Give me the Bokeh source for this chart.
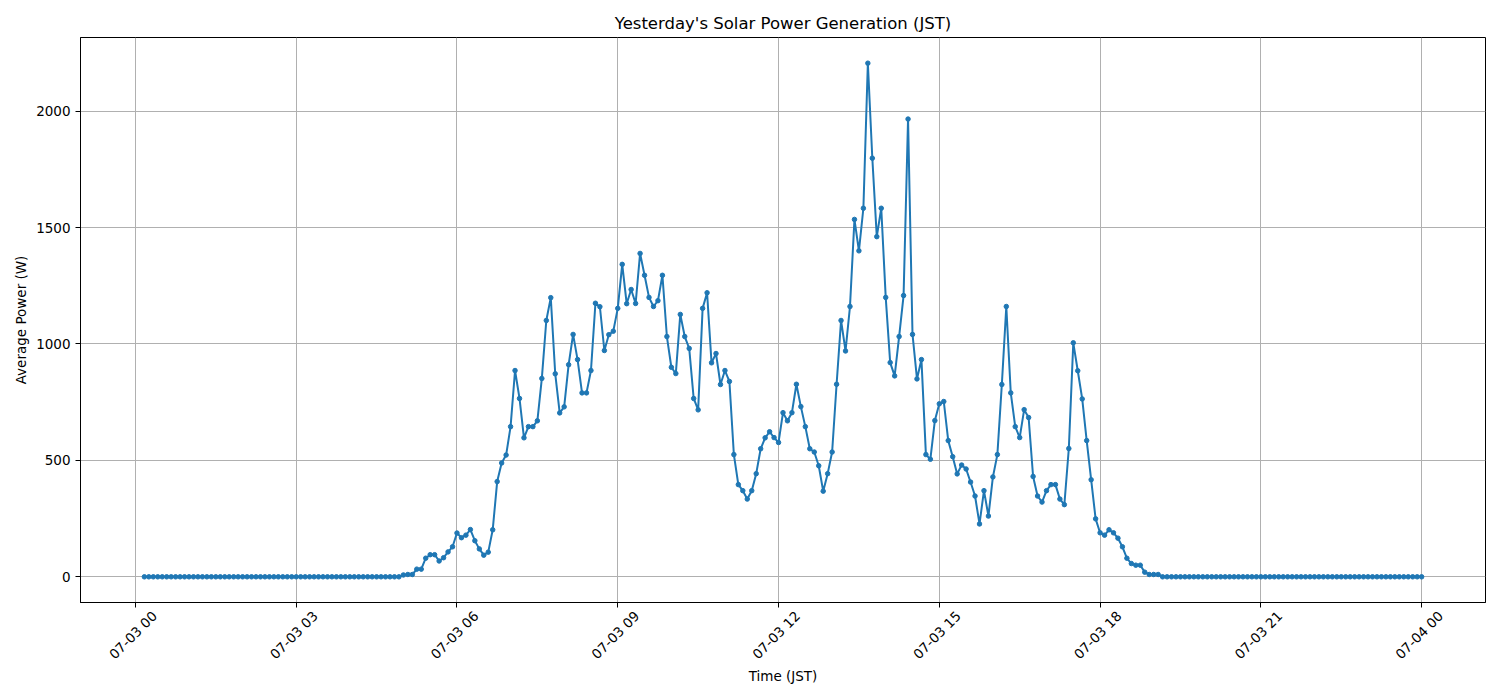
import math
import pandas as pd
from bokeh.plotting import figure
from bokeh.models import (Range1d, FixedTicker, ColumnDataSource, DatetimeAxis,
                          CustomJSTickFormatter)
from bokeh.embed import file_html
from bokeh.resources import INLINE

# ---- data: 5-minute averages from 07-03 00:10 to 07-04 00:00 (JST) ----
start_time = "2024-07-03 00:10"
end_time = "2024-07-04 00:00"

night_before = [0, 0, 0, 0, 0, 0, 0, 0, 0, 0, 0, 0, 0, 0, 0, 0, 0, 0, 0, 0,
                0, 0, 0, 0, 0, 0, 0, 0, 0, 0, 0, 0, 0, 0, 0, 0, 0, 0, 0, 0,
                0, 0, 0, 0, 0, 0, 0, 0, 0, 0, 0, 0, 0, 0, 0, 0, 0, 0]  # 00:10-04:55

daytime = [
    8, 10, 10, 33, 33, 80, 95, 95, 68, 82, 107, 129,            # 05:00-05:55
    188, 168, 179, 203, 155, 120, 93, 106, 202, 409, 489, 523,  # 06
    645, 886, 766, 597, 645, 645, 670, 852, 1101, 1199, 872, 704,  # 07
    730, 911, 1041, 933, 790, 790, 886, 1175, 1160, 972, 1040, 1055,  # 08
    1153, 1342, 1173, 1234, 1174, 1389, 1295, 1200, 1161, 1186, 1295, 1032,  # 09
    900, 873, 1127, 1032, 981, 766, 717, 1153, 1220, 919, 959, 826,  # 10
    886, 839, 525, 396, 370, 334, 370, 443, 550, 597, 623, 598,  # 11
    577, 705, 670, 705, 827, 731, 645, 550, 536, 477, 368, 443,  # 12
    536, 827, 1101, 970, 1161, 1535, 1400, 1583, 2206, 1798, 1461, 1583,  # 13
    1200, 920, 863, 1032, 1208, 1966, 1041, 850, 933, 525, 505, 671,  # 14
    743, 753, 585, 516, 442, 480, 463, 407, 347, 227, 370, 261,  # 15
    429, 525, 826, 1161, 790, 645, 598, 718, 684, 431, 347, 321,  # 16
    370, 396, 396, 334, 310, 551, 1005, 885, 764, 585, 417, 249,  # 17
    189, 179, 202, 189, 166, 129, 80, 57, 50, 50, 20, 10,       # 18
    10, 10, 0,                                                  # 19:00-19:10
]

night_after = [0, 0, 0, 0, 0, 0, 0, 0, 0, 0, 0, 0, 0, 0, 0, 0, 0, 0, 0, 0,
               0, 0, 0, 0, 0, 0, 0, 0, 0, 0, 0, 0, 0, 0, 0, 0, 0, 0, 0, 0,
               0, 0, 0, 0, 0, 0, 0, 0, 0, 0, 0, 0, 0, 0, 0, 0, 0, 0]  # 19:15-24:00

tick_times = ["2024-07-03 00:00", "2024-07-03 03:00", "2024-07-03 06:00",
              "2024-07-03 09:00", "2024-07-03 12:00", "2024-07-03 15:00",
              "2024-07-03 18:00", "2024-07-03 21:00", "2024-07-04 00:00"]
tick_labels = ["07-03 00", "07-03 03", "07-03 06", "07-03 09", "07-03 12",
               "07-03 15", "07-03 18", "07-03 21", "07-04 00"]
y_ticks = [0, 500, 1000, 1500, 2000]

power = night_before + daytime + night_after
times = pd.date_range(start_time, end_time, freq="5min")
assert len(times) == len(power)

src = ColumnDataSource(dict(t=times, w=power))

# matplotlib-like 5% margins
t0, t1 = times[0], times[-1]
span = t1 - t0
xr = Range1d(t0 - span * 0.05, t1 + span * 0.05)
ymax = max(power)
yr = Range1d(-0.05 * ymax, ymax * 1.05)

FONT = "DejaVu Sans"
FS = "13.5px"
FRAME_W, FRAME_H = 1405, 565

p = figure(width=1500, height=700, x_axis_type="datetime",
           x_range=xr, y_range=yr, output_backend="svg", toolbar_location=None,
           title="Yesterday's Solar Power Generation (JST)",
           min_border_left=80, min_border_right=15, min_border_top=37, min_border_bottom=98)
p.frame_width = FRAME_W
p.frame_height = FRAME_H
p.background_fill_color = "white"
p.border_fill_color = "white"
p.outline_line_color = "black"
p.outline_line_width = 1
p.outline_line_alpha = 1

p.title.align = "center"
p.title.text_font = FONT
p.title.text_font_size = "16.5px"
p.title.text_font_style = "normal"
p.title.text_color = "black"

p.line("t", "w", source=src, line_color="#1f77b4", line_width=2)
p.scatter("t", "w", source=src, size=4.5, fill_color="#1f77b4", line_color="#1f77b4",
          line_width=1)

tick_ms = [pd.Timestamp(s).value / 1e6 for s in tick_times]

# main x axis: tick marks only
p.xaxis.ticker = FixedTicker(ticks=tick_ms)
p.xaxis.formatter = CustomJSTickFormatter(code="return ''")
p.xaxis.major_label_standoff = 0
p.yaxis.ticker = FixedTicker(ticks=y_ticks)

# label axis: ticks shifted so Bokeh's end-anchored rotated labels appear centred under ticks
ms_per_px = (xr.end - xr.start).total_seconds() * 1000 / FRAME_W
shift = 19 * ms_per_px
lab_ticks = [t + shift for t in tick_ms]
lab_axis = DatetimeAxis(
    ticker=FixedTicker(ticks=lab_ticks),
    formatter=CustomJSTickFormatter(args=dict(tpos=lab_ticks, tlab=tick_labels), code="""
        let best = 0, bd = Infinity;
        for (let i = 0; i < tpos.length; i++) {
            const d = Math.abs(tpos[i] - tick);
            if (d < bd) { bd = d; best = i; }
        }
        return tlab[best];
    """),
    major_label_orientation=math.pi / 4,
    major_tick_line_color=None, minor_tick_line_color=None, axis_line_color=None,
    major_label_standoff=0,
    axis_label="Time (JST)",
)
p.add_layout(lab_axis, "below")

p.yaxis.axis_label = "Average Power (W)"

for ax in (p.xaxis[0], lab_axis, p.yaxis[0]):
    ax.axis_label_text_font = FONT
    ax.axis_label_text_font_size = FS
    ax.axis_label_text_font_style = "normal"
    ax.axis_label_text_color = "black"
    ax.major_label_text_font = FONT
    ax.major_label_text_font_size = FS
    ax.major_label_text_color = "black"

for ax in (p.xaxis[0], p.yaxis[0]):
    ax.minor_tick_line_color = None
    ax.major_tick_out = 5
    ax.major_tick_in = 0
    ax.major_tick_line_color = "black"
    ax.axis_line_color = "black"

lab_axis.axis_label_standoff = -3
p.yaxis.axis_label_standoff = 4

p.grid.grid_line_color = "#b0b0b0"
p.grid.grid_line_width = 1
p.grid.grid_line_alpha = 1

open("out.html", "w").write(file_html(p, INLINE))
